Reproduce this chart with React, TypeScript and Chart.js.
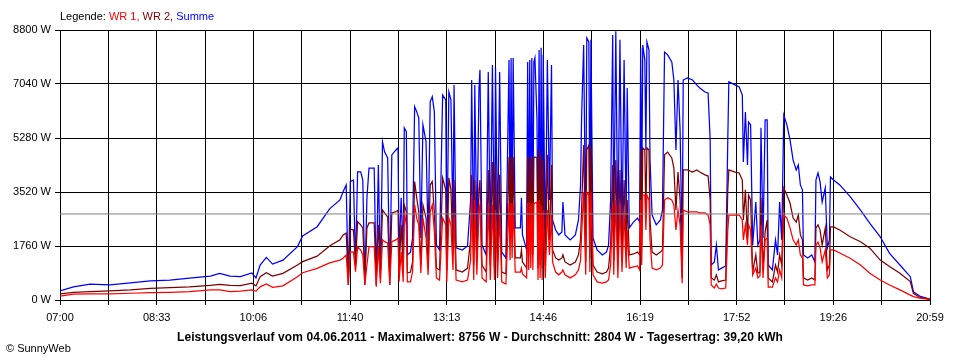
import React, { useEffect, useRef } from "react";
import { Chart, registerables } from "chart.js";

Chart.register(...registerables);

// Zeitpunkte in Minuten seit Mitternacht
const TIMES = [
  420, 433, 449, 468, 488, 507, 526, 545, 565, 574,
  584, 594, 605, 609, 613, 619, 625, 635, 649, 654,
  668, 680, 690, 693, 696, 698, 700, 703, 705, 707,
  710, 712, 714, 716, 718, 723, 725, 727, 729, 731,
  733, 736, 738, 740, 744, 746, 747, 749, 751, 752,
  754, 755, 758, 760, 762, 764, 766, 768, 770, 773,
  775, 777, 779, 781, 783, 786, 789, 792, 793, 795,
  797, 799, 800, 802, 808, 813, 816, 817, 819, 820,
  822, 824, 825, 827, 831, 833, 835, 837, 839, 840,
  842, 844, 846, 850, 853, 854, 855, 856, 857, 859, 864, 865, 866,
  870, 871, 872, 873, 874, 875, 876, 877, 878, 880, 881, 882, 883, 884, 885, 886,
  888, 890, 892, 894, 895, 898, 901, 904, 905, 907,
  912, 917, 920, 922, 923, 925, 927, 928, 930, 931,
  932, 934, 938, 943, 947, 949, 951, 953, 954, 956,
  958, 960, 962, 964, 966, 967, 969, 973, 977, 979,
  980, 981, 982, 984, 985, 986, 988, 989, 991, 995,
  999, 1001, 1003, 1006, 1010, 1012, 1014, 1016, 1018, 1020,
  1021, 1025, 1030, 1034, 1037, 1042, 1045, 1047, 1048, 1051,
  1053, 1055, 1058, 1062, 1064, 1065, 1071, 1075, 1078, 1079,
  1081, 1083, 1084, 1086, 1088, 1091, 1093, 1095, 1096, 1098,
  1100, 1102, 1103, 1107, 1110, 1112, 1114, 1116, 1118, 1121,
  1124, 1127, 1130, 1132, 1134, 1136, 1137, 1141, 1145, 1148,
  1149, 1151, 1153, 1155, 1158, 1160, 1162, 1163, 1166, 1172,
  1182, 1192, 1201, 1211, 1220, 1230, 1240, 1243, 1249, 1259,
];

const WR1 = [
  130, 190, 200, 200, 220, 240, 250, 270, 330, 330,
  270, 290, 330, 290, 430, 520, 410, 460, 760, 890,
  1030, 1210, 1300, 1360, 1470, 490, 1570, 1560, 920, 1740,
  1630, 1470, 490, 1140, 1740, 1740, 430, 1730, 550, 1960,
  1900, 1860, 490, 1900, 1960, 2020, 600, 1560, 590, 2870,
  2450, 590, 590, 920, 3100, 2670, 2450, 880, 2670, 2020,
  820, 2870, 3100, 2230, 720, 650, 2670, 2450, 590, 2670,
  2450, 980, 2770, 650, 590, 650, 1300, 3420, 650, 3260,
  820, 2930, 3100, 720, 590, 3100, 650, 3100, 650, 2930,
  720, 2770, 590, 520, 3160, 1300, 3160, 1370, 3160, 910, 910, 1040, 850,
  720, 3160, 980, 3160, 1040, 3160, 980, 3130, 3160, 3190, 650, 3260, 720, 3100, 650, 2930,
  720, 2930, 1470, 2770, 1240, 910, 820, 910, 980, 820,
  720, 820, 980, 1300, 2120, 3520, 820, 3520, 3420, 910,
  3520, 820, 590, 550, 590, 650, 1140, 3100, 820, 3260,
  720, 3100, 910, 2870, 1040, 2280, 1040, 1080, 1110, 980,
  3260, 1140, 3420, 3420, 2280, 3420, 3260, 1960, 1040, 980,
  1040, 1140, 3260, 3330, 3260, 3100, 2280, 2930, 2450, 550,
  2930, 2870, 2870, 2870, 2840, 2840, 2770, 2450, 490, 390,
  520, 390, 360, 390, 2280, 2770, 2770, 2770, 2610, 1960,
  2450, 1790, 2450, 2280, 820, 1040, 720, 780, 2450, 720,
  1960, 2020, 420, 420, 720, 590, 980, 720, 2770, 2670,
  2350, 1960, 1790, 1960, 1470, 1370, 490, 460, 490, 490,
  1790, 1890, 1700, 1240, 1630, 720, 820, 1630, 1630, 1530,
  1360, 1140, 870, 650, 490, 330, 160, 110, 60, 20,
];

const WR2 = [
  200, 250, 270, 300, 330, 380, 400, 430, 480, 510,
  480, 470, 550, 460, 760, 890, 780, 870, 1140, 1250,
  1430, 1760, 1960, 2120, 2180, 720, 2310, 2280, 1140, 2550,
  2450, 2350, 720, 2350, 2510, 2510, 720, 2450, 910, 2930,
  2840, 2710, 720, 2840, 2880, 2930, 920, 2450, 910, 3100,
  2870, 880, 910, 1240, 3860, 3330, 2870, 1140, 3100, 2670,
  1140, 3750, 3860, 2870, 1040, 980, 3980, 3590, 980, 3980,
  3590, 1470, 3910, 980, 910, 1040, 1960, 4080, 1140, 3910,
  1240, 3590, 3910, 1140, 910, 4240, 1140, 4500, 1040, 4400,
  1240, 4080, 910, 850, 4660, 1960, 4660, 2120, 4660, 1370, 1370, 1630, 1240,
  1040, 4660, 1470, 4660, 1500, 4660, 1470, 4630, 4660, 4630, 1040, 4890, 1140, 4730, 1040, 4560,
  1140, 4730, 1960, 4400, 1630, 1370, 1300, 1370, 1470, 1240,
  1140, 1240, 1470, 1960, 2930, 5050, 1240, 4890, 5050, 1370,
  4960, 1140, 910, 850, 910, 1040, 1790, 4400, 1300, 4560,
  1140, 4240, 1370, 3910, 1470, 3260, 1470, 1500, 1560, 1470,
  4890, 1790, 4960, 4890, 2770, 4960, 4890, 2610, 1560, 1470,
  1560, 1630, 4730, 4820, 4630, 4300, 2930, 4170, 3260, 720,
  4240, 4240, 4170, 4240, 4170, 4080, 4040, 3260, 720, 650,
  820, 590, 620, 650, 3590, 4240, 4170, 4140, 3910, 2610,
  3590, 2020, 3420, 3260, 910, 1470, 880, 910, 3330, 980,
  2220, 2610, 720, 590, 1140, 910, 1470, 1140, 3650, 3420,
  3160, 2670, 2540, 2770, 2120, 1960, 720, 650, 720, 650,
  2350, 2450, 2280, 1790, 2350, 980, 1140, 2380, 2380, 2280,
  2060, 1900, 1690, 1300, 1090, 870, 600, 220, 90, 20,
];

const SUMME = [
  300, 430, 520, 490, 560, 620, 650, 710, 780, 870,
  780, 760, 880, 720, 1140, 1390, 1170, 1300, 1740, 2090,
  2390, 2970, 3260, 3530, 3750, 490, 3860, 3910, 1140, 4180,
  4180, 3910, 490, 3330, 4300, 4300, 490, 4400, 720, 5160,
  4830, 4630, 490, 4730, 4890, 4960, 1470, 3330, 1470, 5610,
  5490, 1470, 1560, 2020, 6300, 6140, 5930, 2020, 5710, 5160,
  1900, 6460, 6630, 6140, 1790, 1630, 6680, 6520, 1560, 6780,
  6520, 2280, 7010, 1700, 1630, 1760, 3260, 7170, 1630, 7010,
  1960, 6850, 7500, 1790, 1470, 7430, 1960, 7660, 1630, 7560,
  2120, 7430, 1560, 1370, 7820, 2450, 7890, 2610, 7890, 2350, 2350, 3330, 2120,
  1630, 7760, 1890, 7820, 2020, 7890, 1960, 7760, 7890, 5870, 1300, 8150, 1470, 8220, 1300, 7990,
  1630, 7820, 3260, 7660, 2610, 2280, 2120, 2220, 3190, 2120,
  1960, 2120, 2610, 3750, 5930, 8310, 1960, 8540, 8410, 2280,
  8480, 2020, 1630, 1470, 1560, 1790, 3260, 8640, 2280, 8756,
  1960, 8480, 2280, 7820, 2450, 6910, 2350, 2540, 2670, 2540,
  8220, 3260, 8310, 7820, 4890, 8410, 8150, 4560, 2770, 2450,
  2610, 2930, 8080, 7990, 7760, 7170, 4890, 7170, 5540, 1560,
  7170, 7240, 7170, 7010, 6910, 6780, 6750, 5220, 1140, 1240,
  1790, 980, 1040, 1110, 5220, 7110, 7010, 6940, 6680, 4500,
  6130, 4400, 5800, 5710, 1790, 3190, 1790, 1960, 5610, 2020,
  5870, 5870, 1140, 980, 1960, 1470, 3190, 1960, 6030, 5710,
  5220, 4560, 4240, 4400, 3750, 3590, 1470, 1370, 1470, 1240,
  3910, 4140, 3850, 3190, 3650, 1700, 1960, 4010, 3910, 3750,
  3370, 2930, 2500, 2060, 1520, 1140, 760, 270, 130, 30,
];

const DURCHSCHNITT = 2804;
const Y_TICKS = [0, 1760, 3520, 5280, 7040, 8800];
const X_LABELS = ["07:00", "08:33", "10:06", "11:40", "13:13", "14:46", "16:19", "17:52", "19:26", "20:59"];
const X_MIN = 420;
const X_MAX = 1259;
const X_GRID_STEPS = 18;

const FONT = "'Liberation Sans', Arial, sans-serif";

export default function App() {
  const ref = useRef<HTMLCanvasElement>(null);

  useEffect(() => {
    const canvas = ref.current;
    if (!canvas) return;
    const pts = (vals: number[]) => TIMES.map((t, i) => ({ x: t, y: vals[i] }));
    const line = (label: string, data: any[], color: string, width: number) => ({
      label,
      data,
      borderColor: color,
      backgroundColor: color,
      borderWidth: width,
      pointRadius: 0,
      tension: 0,
      fill: false,
    });
    const chart = new Chart(canvas, {
      type: "line",
      data: {
        datasets: [
          line("Durchschnitt", [{ x: X_MIN, y: DURCHSCHNITT }, { x: X_MAX, y: DURCHSCHNITT }], "#808080", 1),
          line("WR 1", pts(WR1), "#ff0000", 1.25),
          line("WR 2", pts(WR2), "#800000", 1.25),
          line("Summe", pts(SUMME), "#0000ff", 1.25),
        ],
      },
      options: {
        animation: false,
        responsive: false,
        events: [],
        layout: { padding: { top: 30, right: 30, left: 0, bottom: 0 } },
        plugins: {
          legend: { display: false },
          tooltip: { enabled: false },
          title: { display: false },
        },
        scales: {
          x: {
            type: "linear",
            min: X_MIN,
            max: X_MAX,
            afterBuildTicks: (s: any) => {
              s.ticks = Array.from({ length: X_GRID_STEPS + 1 }, (_, i) => ({
                value: X_MIN + ((X_MAX - X_MIN) * i) / X_GRID_STEPS,
              }));
            },
            afterFit: (s: any) => {
              s.height = 60;
            },
            ticks: {
              autoSkip: false,
              maxRotation: 0,
              minRotation: 0,
              padding: 6,
              color: "#000",
              font: { family: FONT, size: 11 },
              callback: (_v: any, i: number) => (i % 2 === 0 ? X_LABELS[i / 2] : ""),
            },
            grid: { color: "#000", lineWidth: 1, tickLength: 5, tickColor: "#000", drawTicks: true },
            border: { color: "#000", width: 1 },
          },
          y: {
            type: "linear",
            min: 0,
            max: 8800,
            afterBuildTicks: (s: any) => {
              s.ticks = Y_TICKS.map((v) => ({ value: v }));
            },
            afterFit: (s: any) => {
              s.width = 60;
            },
            ticks: {
              padding: 4,
              color: "#000",
              font: { family: FONT, size: 11 },
              callback: (v: any) => `${v} W`,
            },
            grid: { color: "#000", lineWidth: 1, tickLength: 5, tickColor: "#000", drawTicks: true },
            border: { color: "#000", width: 1 },
          },
        },
      },
    } as any);
    return () => chart.destroy();
  }, []);

  const txt: React.CSSProperties = {
    position: "absolute",
    fontFamily: FONT,
    fontSize: 11,
    lineHeight: "13px",
    whiteSpace: "nowrap",
    color: "#000",
  };

  return (
    <div style={{ position: "absolute", left: 0, top: 0, width: 960, height: 360, background: "#fff", overflow: "hidden" }}>
      <canvas ref={ref} width={960} height={360} style={{ display: "block", width: 960, height: 360 }} />
      <div style={{ ...txt, left: 60, top: 10 }}>
        Legende: <span style={{ color: "#ff0000" }}>WR 1,</span> <span style={{ color: "#800000" }}>WR 2,</span>{" "}
        <span style={{ color: "#0000ff" }}>Summe</span>
      </div>
      <div
        style={{
          ...txt,
          left: 0,
          width: 960,
          top: 330,
          textAlign: "center",
          fontWeight: "bold",
          fontSize: 12,
          lineHeight: "14px",
          letterSpacing: "0.1px",
        }}
      >
        Leistungsverlauf vom 04.06.2011 - Maximalwert: 8756 W - Durchschnitt: 2804 W - Tagesertrag: 39,20 kWh
      </div>
      <div style={{ ...txt, left: 6, top: 342 }}>© SunnyWeb</div>
    </div>
  );
}
